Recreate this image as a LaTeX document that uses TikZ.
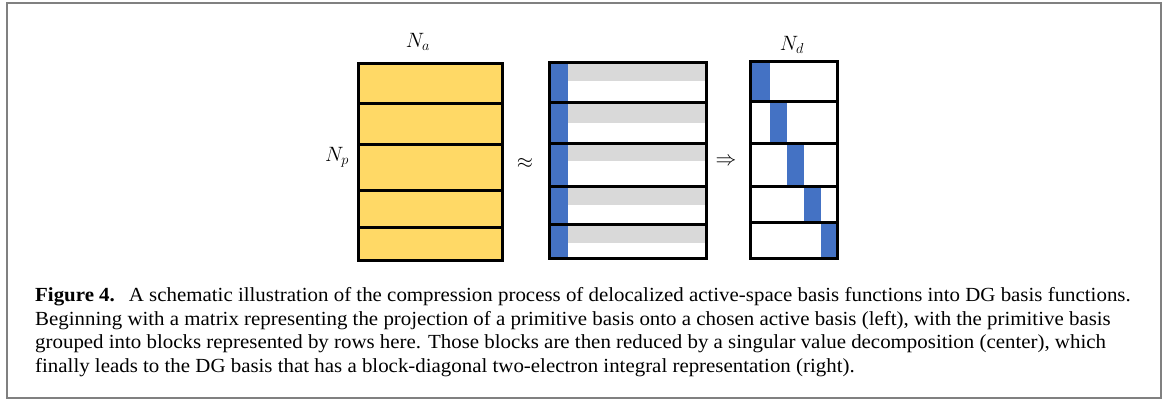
\documentclass[tikz,border=0pt]{standalone}
\usepackage{fontspec}
\setmainfont[FakeStretch=1.045]{Liberation Serif}
\usepackage{amsmath}
\usepackage{tikz}
\definecolor{blockyellow}{HTML}{FFD966}
\definecolor{blockblue}{HTML}{4472C4}
\definecolor{bandgray}{HTML}{D9D9D9}
\definecolor{framegray}{HTML}{808080}
\tikzset{blockline/.style={line width=3pt,line cap=rect},
         caption/.style={anchor=base west,inner sep=0pt,font=\fontsize{20}{24}\selectfont},
         mlabel/.style={font=\fontsize{20}{24}\selectfont}}

\begin{document}
\begin{tikzpicture}[x=1pt,y=-1pt]
        \useasboundingbox (0,0) rectangle (1174,400);
        % frame
        \draw[framegray,line width=1.2pt] (7,3) rectangle (1161,398);
        \draw[framegray,line width=2.6pt] (7,3)--(7,398) (1161,3)--(1161,398);
        % left matrix
        \fill[blockyellow] (358,63) rectangle (502,260);
        \foreach \y in {103,144,190,227}
            \draw[blockline] (358,\y)--(502,\y);
        \draw[blockline] (358,63) rectangle (502,260);
        % middle matrix
        \foreach \a/\b in {62/81,102/123,143/161,186/205,224/243}
            \fill[bandgray] (568,\a) rectangle (706,\b);
        \fill[blockblue] (549,62) rectangle (568,258);
        \foreach \y in {102,143,186,224}
            \draw[blockline] (549,\y)--(706,\y);
        \draw[blockline] (549,62) rectangle (706,258);
        % right matrix
        \foreach \a/\b/\c/\d in {750/770/61/101,770/787/101/143,787/804/143/186,804/821/186/222,821/837/222/258}
            \fill[blockblue] (\a,\c) rectangle (\b,\d);
        \foreach \y in {101,143,186,222}
            \draw[blockline] (750,\y)--(837,\y);
        \draw[blockline] (750,61) rectangle (837,258);
        % labels
        \node[mlabel] (na) at (418,42) {$N_a$};
        \node[mlabel] (np) at (337,157) {$N_p$};
        \node[mlabel] (nd) at (792,45) {$N_d$};
        \node[mlabel] (approx) at (525,163) {$\approx$};
        \node[mlabel] (implies) at (726,162) {$\Rightarrow$};
        % caption
        \node[caption] (cap1) at (35,301) {\textbf{Figure 4.}\hspace{0.7em}A schematic illustration of the compression process of delocalized active-space basis functions into DG basis functions.};
        \node[caption] (cap2) at (35,325) {Beginning with a matrix representing the projection of a primitive basis onto a chosen active basis (left), with the primitive basis};
        \node[caption] (cap3) at (35,348) {grouped into blocks represented by rows here. Those blocks are then reduced by a singular value decomposition (center), which};
        \node[caption] (cap4) at (35,372) {finally leads to the DG basis that has a block-diagonal two-electron integral representation (right).};
\end{tikzpicture}
\end{document}
